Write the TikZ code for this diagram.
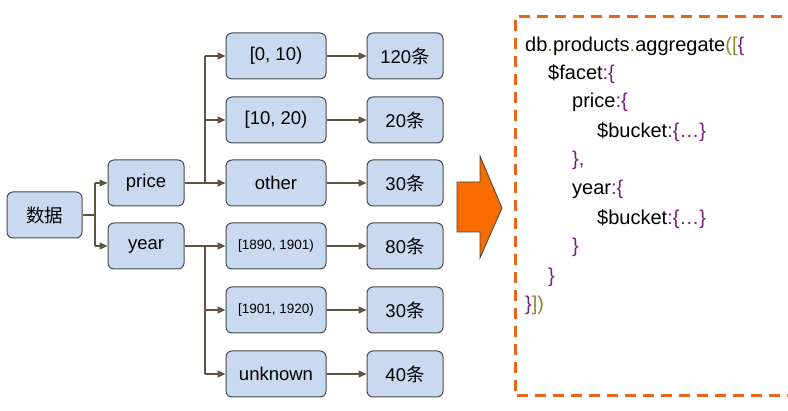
\documentclass[tikz,border=0pt]{standalone}
\usepackage{fontspec}
\setmainfont{Liberation Sans}
\newfontfamily\cjk{Noto Sans CJK SC}
\usetikzlibrary{arrows.meta}
\definecolor{boxfill}{HTML}{C9DAF0}
\definecolor{boxline}{HTML}{4A4A4A}
\definecolor{conn}{HTML}{5E5540}
\definecolor{orng}{HTML}{F76B00}
\definecolor{dashor}{HTML}{E8661C}
\definecolor{purp}{HTML}{7A1F78}
\definecolor{oliv}{HTML}{8A8A2E}
\tikzset{
  box/.style={draw=boxline, line width=1pt, fill=boxfill, rounded corners=6pt,
    minimum height=46pt, inner sep=0pt, font=\fontsize{18.5}{20}\selectfont},
  wbox/.style={box, minimum width=100pt},
  nbox/.style={box, minimum width=76pt},
  conn/.style={draw=conn, line width=1.3pt, -{Triangle[length=8pt,width=7pt]}},
  line/.style={draw=conn, line width=1.3pt},
  code/.style={anchor=base west, inner sep=0pt, font=\fontsize{20}{22}\selectfont},
}
\newcommand{\pu}[1]{\textcolor{purp}{#1}}
\newcommand{\ol}[1]{\textcolor{oliv}{#1}}
\begin{document}
\begin{tikzpicture}[x=1pt,y=-1pt]
\useasboundingbox (0,0) rectangle (788,411);
\fill[white] (0,0) rectangle (788,411);
% nodes
\node[box, minimum width=75pt] (data) at (44.5,215) {\cjk 数据};
\node[nbox] (price) at (146,183) {price};
\node[nbox] (year) at (146,246) {year};
\node[wbox] (p1) at (276,56) {[0, 10)};
\node[wbox] (p2) at (276,120) {[10, 20)};
\node[wbox] (p3) at (276,183) {other};
\node[wbox, font=\fontsize{13.5}{15}\selectfont] (y1) at (276,246) {[1890, 1901)};
\node[wbox, font=\fontsize{13.5}{15}\selectfont] (y2) at (276,310) {[1901, 1920)};
\node[wbox] (y3) at (276,374) {unknown};
\node[nbox] (c1) at (405,56) {120{\cjk 条}};
\node[nbox] (c2) at (405,120) {20{\cjk 条}};
\node[nbox] (c3) at (405,183) {30{\cjk 条}};
\node[nbox] (c4) at (405,246) {80{\cjk 条}};
\node[nbox] (c5) at (405,310) {30{\cjk 条}};
\node[nbox] (c6) at (405,374) {40{\cjk 条}};
% junction coordinates
\coordinate (j0) at (95,215);
\coordinate (j1) at (205,183);
\coordinate (j2) at (205,246);
% connectors
\path[line] (data.east) -- (j0);
\path[line] (j0 |- price) -- (j0 |- year);
\path[conn] (j0 |- price) -- (price.west);
\path[conn] (j0 |- year) -- (year.west);
\path[line] (price.east) -- (j1);
\path[line] (j1 |- p1) -- (j1);
\path[conn] (j1 |- p1) -- (p1.west);
\path[conn] (j1 |- p2) -- (p2.west);
\path[conn] (j1) -- (p3.west);
\path[line] (year.east) -- (j2);
\path[line] (j2) -- (j2 |- y3);
\path[conn] (j2) -- (y1.west);
\path[conn] (j2 |- y2) -- (y2.west);
\path[conn] (j2 |- y3) -- (y3.west);
\foreach \a/\b in {p1/c1,p2/c2,p3/c3,y1/c4,y2/c5,y3/c6}{
  \path[conn] (\a.east) -- (\b.west);
}
% big orange arrow
\filldraw[fill=orng, draw=conn!80!black, line width=0.8pt]
  (457,182) -- (480,182) -- (480,156) -- (502,208) -- (480,258) -- (480,232) -- (457,232) -- cycle;
% dashed frame
\draw[dashor, line width=3pt, dash pattern=on 11pt off 7pt]
  (800,17) -- (515,17) -- (515,396) -- (800,396);
% code
\node[code] (l1) at (525,52) {db\ol{.}products\ol{.}aggregate\ol{([}\pu{\{}};
\node[code] (l2) at (548,80) {\$facet\pu{:\{}};
\node[code] (l3) at (572,108) {price\pu{:\{}};
\node[code] (l4) at (597,138) {\$bucket\pu{:\{…\}}};
\node[code] (l5) at (572,166) {\pu{\},}};
\node[code] (l6) at (572,195) {year\pu{:\{}};
\node[code] (l7) at (597,225) {\$bucket\pu{:\{…\}}};
\node[code] (l8) at (572,253) {\pu{\}}};
\node[code] (l9) at (548,283) {\pu{\}}};
\node[code] (l10) at (525,311) {\pu{\}}\ol{])}};
\end{tikzpicture}
\end{document}
